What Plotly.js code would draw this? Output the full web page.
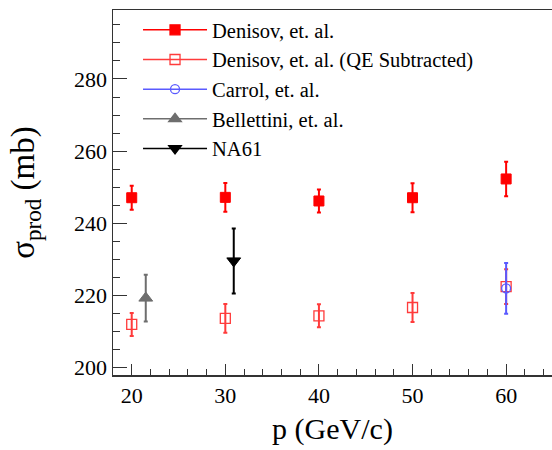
<!DOCTYPE html>
<html><head><meta charset="utf-8">
<script src="https://cdn.plot.ly/plotly-3.0.1.min.js"></script>
<style>html,body{margin:0;padding:0;background:#fff;}#chart{width:552px;height:450px;}</style>
</head><body><div id="chart"></div>
<script>
const momenta = [20, 30, 40, 50, 60];
const denisovY = [247.1, 247.2, 246.2, 247.1, 252.3];
const denisovErr = [3.3, 4.0, 3.2, 4.0, 4.8];
const denisovQEY = [212.0, 213.7, 214.4, 216.7, 222.5];
const denisovQEErr = [3.2, 4.0, 3.2, 4.0, 4.8];
const carrolX = [60];
const carrolY = [222.0];
const carrolErr = [7.0];
const bellettiniX = [21.5];
const bellettiniY = [219.3];
const bellettiniErr = [6.5];
const na61X = [30.9];
const na61Y = [229.6];
const na61Err = [9.0];
const names = ["Denisov, et. al.", "Denisov, et. al. (QE Subtracted)", "Carrol, et. al.", "Bellettini, et. al.", "NA61"];

const RED = '#ff0000', RED2 = '#ff3b3b', BLUE = '#5a5aff', GRAY = '#6e6e6e', BLACK = '#000000';

function pts(x, y, err, color, symbol, size, lw, group) {
  return {x: x, y: y, type: 'scatter', mode: 'markers', showlegend: false, legendgroup: group,
    marker: {color: color, symbol: symbol, size: size, line: {color: color, width: lw}},
    error_y: {type: 'data', array: err, visible: true, color: color, thickness: 2, width: 2}};
}
function leg(name, color, symbol, size, group) {
  return {x: [null], y: [null], type: 'scatter', mode: 'lines+markers', name: name, legendgroup: group,
    line: {color: color, width: 1.5}, marker: {color: color, symbol: symbol, size: size, line: {color: color, width: 1.3}}};
}
const data = [
  pts(momenta, denisovY, denisovErr, RED, 'square', 10, 1, 'a'),
  pts(momenta, denisovQEY, denisovQEErr, RED2, 'square-open', 10, 1.3, 'b'),
  pts(carrolX, carrolY, carrolErr, BLUE, 'circle-open', 9, 1.3, 'c'),
  pts(bellettiniX, bellettiniY, bellettiniErr, GRAY, 'triangle-up', 12, 1, 'd'),
  pts(na61X, na61Y, na61Err, BLACK, 'triangle-down', 12, 1, 'e'),
  leg(names[0], RED, 'square', 10, 'a'),
  leg(names[1], RED2, 'square-open', 10, 'b'),
  leg(names[2], BLUE, 'circle-open', 9, 'c'),
  leg(names[3], GRAY, 'triangle-up', 11, 'd'),
  leg(names[4], BLACK, 'triangle-down', 11, 'e')
];
const FONT = '"Liberation Serif", "Times New Roman", Times, serif';
const layout = {
  width: 552, height: 450,
  margin: {l: 113, r: 0, t: 10, b: 75},
  paper_bgcolor: '#fff', plot_bgcolor: '#fff',
  font: {family: FONT, color: '#000'},
  showlegend: true,
  legend: {x: 0.057, y: 1.0, xanchor: 'left', yanchor: 'top', bgcolor: 'rgba(0,0,0,0)',
    font: {family: FONT, size: 20.5, color: '#000'}, tracegroupgap: 0, itemwidth: 64},
  xaxis: {range: [18, 64.9], showgrid: false, zeroline: false, showline: true, linecolor: '#333', linewidth: 1.5,
    mirror: true, ticks: 'inside', ticklen: 11, tickwidth: 1, tickcolor: '#333', dtick: 10, tick0: 0,
    minor: {dtick: 2, tick0: 0, ticks: 'inside', ticklen: 6, tickcolor: '#333', tickwidth: 1, showgrid: false},
    tickfont: {family: FONT, size: 22, color: '#000'},
    title: {text: 'p (GeV/c)', font: {family: FONT, size: 30, color: '#000'}, standoff: 11}},
  yaxis: {range: [198, 299.1], showgrid: false, zeroline: false, showline: true, linecolor: '#333', linewidth: 1.5,
    ticks: 'inside', ticklen: 14, tickwidth: 1, tickcolor: '#333', dtick: 20, tick0: 0,
    minor: {dtick: 5, tick0: 0, ticks: 'inside', ticklen: 7, tickcolor: '#333', tickwidth: 1, showgrid: false},
    tickfont: {family: FONT, size: 22, color: '#000'},
    title: {text: 'σ<sub>prod</sub> (mb)', font: {family: FONT, size: 33, color: '#000'}, standoff: 29}}
};
Plotly.newPlot('chart', data, layout, {staticPlot: true, displayModeBar: false});
</script></body></html>
